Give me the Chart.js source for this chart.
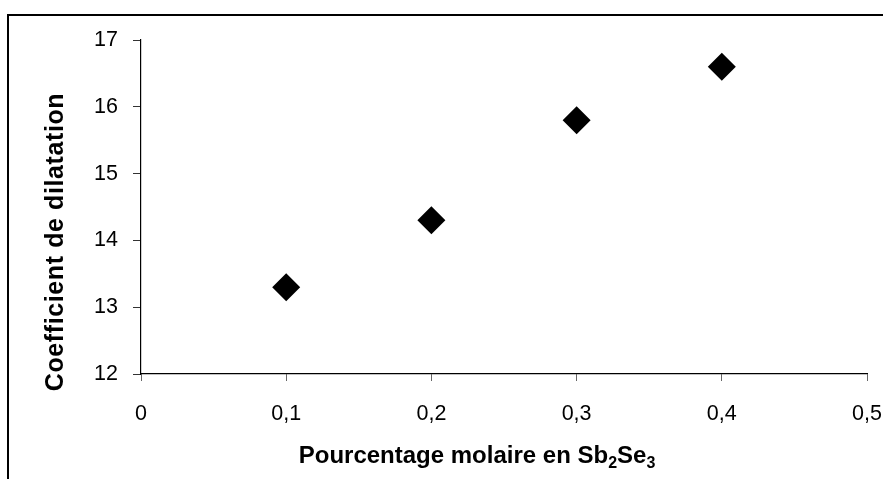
<!DOCTYPE html>
<html>
<head>
<meta charset="utf-8">
<script src="https://cdn.jsdelivr.net/npm/chart.js@4"></script>
<style>
  html, body { margin: 0; padding: 0; background: #fff; }
  #wrap { width: 883px; height: 479px; }
</style>
</head>
<body>
<div id="wrap"><canvas id="chart" width="883" height="479"></canvas></div>
<script>
// Data
const xValues = [0.1, 0.2, 0.3, 0.4];
const yValues = [13.3, 14.3, 15.8, 16.6];
const xTicks = [0, 0.1, 0.2, 0.3, 0.4, 0.5];
const yTicks = [12, 13, 14, 15, 16, 17];

const FONT = "Arial, 'Liberation Sans', sans-serif";

// Frame + axis titles (Excel style, with subscripts)
const decorPlugin = {
  id: "decor",
  beforeDraw(chart) {
    const ctx = chart.ctx;
    ctx.save();
    ctx.fillStyle = "#000";
    ctx.fillRect(7, 14, 883, 2);
    ctx.fillRect(7, 14, 2, 479);
    ctx.restore();
  },
  afterDraw(chart) {
    const ctx = chart.ctx;
    ctx.save();
    ctx.fillStyle = "#000";
    ctx.textBaseline = "alphabetic";

    // x title: "Pourcentage molaire en Sb2Se3"
    const big = "bold 24px " + FONT;
    const small = "bold 16px " + FONT;
    const parts = [
      { t: "Pourcentage molaire en Sb", f: big, dy: 0 },
      { t: "2", f: small, dy: 5 },
      { t: "Se", f: big, dy: 0 },
      { t: "3", f: small, dy: 5 },
    ];
    let total = 0;
    parts.forEach((p) => {
      ctx.font = p.f;
      p.w = ctx.measureText(p.t).width;
      total += p.w;
    });
    let x = 477 - total / 2;
    const base = 463;
    parts.forEach((p) => {
      ctx.font = p.f;
      ctx.fillText(p.t, x, base + p.dy);
      x += p.w;
    });

    // y title
    ctx.translate(63, 242);
    ctx.rotate(-Math.PI / 2);
    ctx.font = "bold 25px " + FONT;
    ctx.letterSpacing = "0.6px";
    ctx.textAlign = "center";
    ctx.fillText("Coefficient de dilatation", 0, 0);
    ctx.restore();
  },
};

new Chart(document.getElementById("chart"), {
  type: "scatter",
  data: {
    datasets: [
      {
        label: "Coefficient de dilatation",
        data: xValues.map((x, i) => ({ x: x, y: yValues[i] })),
        pointStyle: "rectRot",
        pointRadius: 14,
        pointHoverRadius: 14,
        backgroundColor: "#000",
        borderColor: "#000",
        borderWidth: 0,
      },
    ],
  },
  options: {
    responsive: false,
    animation: false,
    events: [],
    layout: { padding: { left: 0, top: 40, right: 16, bottom: 0 } },
    plugins: {
      legend: { display: false },
      tooltip: { enabled: false },
    },
    scales: {
      x: {
        type: "linear",
        min: 0,
        max: 0.5,
        afterFit: (s) => {
          s.height = 105;
          s.paddingLeft = 0;
          s.paddingRight = 0;
        },
        afterBuildTicks: (s) => { s.ticks = xTicks.map((v) => ({ value: v })); },
        border: { display: true, color: "#000", width: 1.2 },
        grid: { drawOnChartArea: false, tickLength: 7, tickColor: "#666" },
        ticks: {
          color: "#000",
          padding: 20,
          font: { family: FONT, size: 21.5 },
          callback: (v) => String(v).replace(".", ","),
        },
      },
      y: {
        min: 12,
        max: 17,
        afterFit: (s) => {
          s.width = 141;
          s.paddingTop = 0;
          s.paddingBottom = 0;
        },
        afterBuildTicks: (s) => { s.ticks = yTicks.map((v) => ({ value: v })); },
        border: { display: true, color: "#000", width: 1.2 },
        grid: { drawOnChartArea: false, tickLength: 8, tickColor: "#333" },
        ticks: {
          color: "#000",
          padding: 15,
          font: { family: FONT, size: 21.5 },
        },
      },
    },
  },
  plugins: [decorPlugin],
});
</script>
</body>
</html>
